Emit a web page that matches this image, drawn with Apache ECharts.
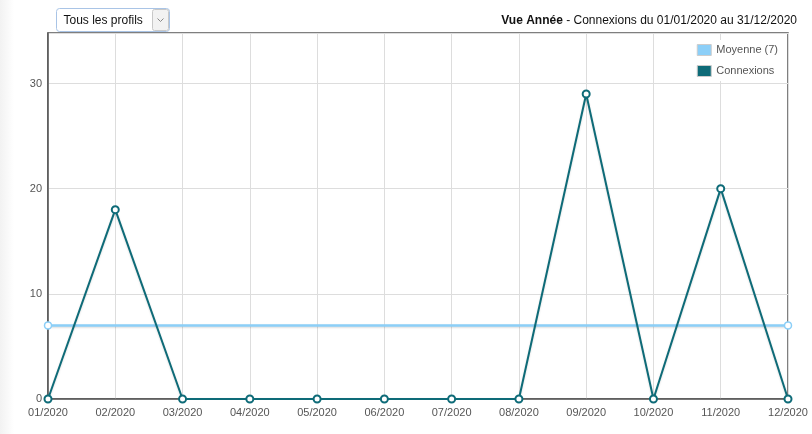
<!DOCTYPE html>
<html>
<head>
<meta charset="utf-8">
<script src="https://cdn.jsdelivr.net/npm/echarts@6/dist/echarts.min.js"></script>
<style>
  html, body { margin: 0; padding: 0; background: #fff; }
  #chart { width: 812px; height: 434px; }
</style>
</head>
<body>
<div id="chart"></div>
<script>
// Connexions par mois, année 2020
var months = ["01/2020", "02/2020", "03/2020", "04/2020", "05/2020", "06/2020",
              "07/2020", "08/2020", "09/2020", "10/2020", "11/2020", "12/2020"];
var connexions = [0, 18, 0, 0, 0, 0, 0, 0, 29, 0, 20, 0];
var moyenne = [7, 7, 7, 7, 7, 7, 7, 7, 7, 7, 7, 7];
var yTicks = [0, 10, 20, 30];

var chart = echarts.init(document.getElementById("chart"));

var option = {
  animation: false,
  textStyle: { fontFamily: "Liberation Sans, Arial, sans-serif" },
  title: {
    text: "{b|Vue Année} - Connexions du 01/01/2020 au 31/12/2020",
    right: 10,
    top: 10,
    textStyle: {
      fontSize: 12,
      fontWeight: "normal",
      color: "#111",
      rich: {
        b: { fontSize: 12, fontWeight: "bold", color: "#111" }
      }
    }
  },
  graphic: [
    {
      type: "rect",
      left: 0, top: 0,
      shape: { width: 14, height: 434 },
      style: {
        fill: new echarts.graphic.LinearGradient(0, 0, 1, 0, [
          { offset: 0, color: "#f2f2f2" },
          { offset: 1, color: "#ffffff" }
        ])
      },
      z: -10
    },
    {
      type: "group",
      left: 56, top: 8,
      children: [
        {
          type: "rect",
          shape: { x: 0, y: 0, width: 113, height: 23, r: 3 },
          style: { fill: "#fff", stroke: "#a9c4e6", lineWidth: 1 }
        },
        {
          type: "rect",
          shape: { x: 96, y: 1, width: 16, height: 21, r: 2 },
          style: { fill: "#f2f2f2", stroke: "#c8c8c8", lineWidth: 1 }
        },
        {
          type: "text",
          x: 7, y: 6,
          style: { text: "Tous les profils", fill: "#111", font: "12px Liberation Sans, Arial, sans-serif" }
        },
        {
          type: "polyline",
          shape: { points: [[101, 10], [104, 13], [107, 10]] },
          style: { stroke: "#888", lineWidth: 1, fill: null }
        }
      ]
    }
  ],
  legend: {
    right: 34,
    top: 40,
    orient: "vertical",
    itemWidth: 14,
    itemHeight: 11,
    itemGap: 9,
    backgroundColor: "#fff",
    padding: [4, 0, 4, 8],
    textStyle: { color: "#555", fontSize: 11 },
    data: [
      { name: "Moyenne (7)", icon: "rect", itemStyle: { color: "#8ccff8", borderColor: "#ccc", borderWidth: 1 } },
      { name: "Connexions", icon: "rect", itemStyle: { color: "#0e6b78", borderColor: "#ccc", borderWidth: 1 } }
    ]
  },
  grid: {
    left: 48,
    right: 24,
    top: 33,
    bottom: 35,
    show: true,
    borderColor: "#555",
    borderWidth: 1.5,
    backgroundColor: "transparent"
  },
  xAxis: {
    type: "category",
    data: months,
    boundaryGap: false,
    axisLine: { lineStyle: { color: "#555", width: 1.5 } },
    axisTick: { show: false },
    axisLabel: { color: "#555", fontSize: 11, margin: 8 },
    splitLine: { show: true, lineStyle: { color: "#ddd" } }
  },
  yAxis: {
    type: "value",
    min: 0,
    max: 34.8,
    interval: 10,
    axisLine: { show: true, lineStyle: { color: "#555", width: 1.5 } },
    axisTick: { show: false },
    axisLabel: {
      color: "#555",
      fontSize: 11,
      margin: 6,
      formatter: function (v) { return yTicks.indexOf(v) >= 0 ? String(v) : ""; }
    },
    splitLine: { lineStyle: { color: "#ddd" } }
  },
  series: [
    {
      name: "Moyenne (7)",
      type: "line",
      data: moyenne,
      symbol: "circle",
      showAllSymbol: true,
      symbolSize: function (v, p) {
        return (p.dataIndex === 0 || p.dataIndex === moyenne.length - 1) ? 7 : 0;
      },
      lineStyle: { color: "#8ccff8", width: 2.5, shadowColor: "rgba(0,0,0,0.15)", shadowBlur: 2, shadowOffsetY: 1 },
      itemStyle: { color: "#fff", borderColor: "#8ccff8", borderWidth: 1.5 },
      z: 2
    },
    {
      name: "Connexions",
      type: "line",
      data: connexions,
      symbol: "circle",
      symbolSize: 7,
      showAllSymbol: true,
      lineStyle: { color: "#0e6b78", width: 2, shadowColor: "rgba(0,0,0,0.15)", shadowBlur: 2, shadowOffsetY: 1 },
      itemStyle: { color: "#fff", borderColor: "#0e6b78", borderWidth: 2 },
      z: 3
    }
  ]
};

chart.setOption(option);
</script>
</body>
</html>
